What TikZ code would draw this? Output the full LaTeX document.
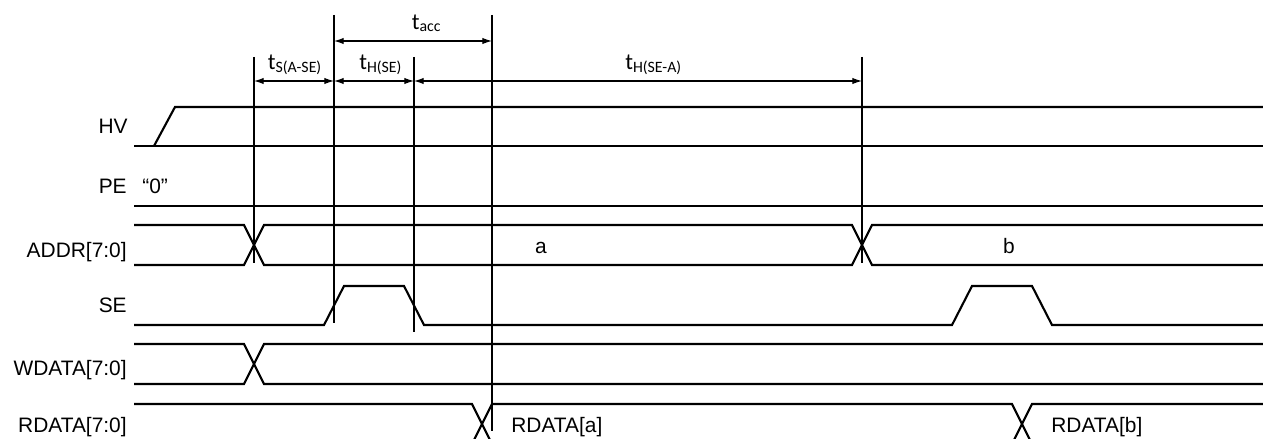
\documentclass[tikz,border=0pt]{standalone}
\usepackage{fontspec}
\setmainfont{Liberation Sans}
\newfontfamily\calfont{Carlito}
\usepackage{tikz}
\usetikzlibrary{arrows.meta, positioning}

% timing label: t with a lowered small subscript
\newcommand{\tlbl}[1]{{\calfont\fontsize{13.1}{15}\selectfont t\raisebox{-1.2pt}{\fontsize{9}{10}\selectfont #1}}}

\begin{document}
\begin{tikzpicture}[x=0.02cm, y=-0.02cm,
    sig/.style={line width=1.2pt, line join=miter},
    marker/.style={line width=0.7pt},
    dim/.style={line width=0.6pt, {Latex[length=5.5pt,width=3.6pt]}-{Latex[length=5.5pt,width=3.6pt]}},
    signame/.style={inner sep=0pt, font=\fontsize{11.9}{14}\selectfont},
    tlabel/.style={inner sep=0pt, anchor=base west}]
        \useasboundingbox (0,0) rectangle (1263,439);
        \clip (0,0) rectangle (1263,439);

        % signal names
        \node[signame, anchor=base east] (hv) at (128,133) {HV};
        \node[signame, anchor=base east] (pe) at (127,193) {PE};
        \node[signame, anchor=base west] (pe0) at (142,193) {“0”};
        \node[signame, anchor=base east] (addr) at (127,257) {ADDR[7:0]};
        \node[signame, anchor=base east] (se) at (127,312) {SE};
        \node[signame, anchor=base east] (wdata) at (127,375) {WDATA[7:0]};
        \node[signame, anchor=base east] (rdata) at (127,432) {RDATA[7:0]};

        % waveforms
        \draw[sig] (134,146) -- (1263,146);
        \draw[sig] (154,146) -- (175,107) -- (1263,107);
        \draw[sig] (134,206) -- (1263,206);
        \draw[sig] (134,225) -- (244,225) -- (264,265) -- (852,265) -- (872,225) -- (1263,225);
        \draw[sig] (134,265) -- (244,265) -- (264,225) -- (852,225) -- (872,265) -- (1263,265);
        \draw[sig] (134,325) -- (324,325) -- (344,286) -- (404,286) -- (424,325)
              -- (952,325) -- (972,286) -- (1032,286) -- (1052,325) -- (1263,325);
        \draw[sig] (134,344) -- (244,344) -- (264,384) -- (1263,384);
        \draw[sig] (134,384) -- (244,384) -- (264,344) -- (1263,344);
        \draw[sig] (134,404) -- (472,404) -- (492,444) -- (1012,444) -- (1032,404) -- (1263,404);
        \draw[sig] (134,444) -- (472,444) -- (492,404) -- (1012,404) -- (1032,444) -- (1263,444);

        \node[signame, anchor=base] (va) at (541,253) {a};
        \node[signame, anchor=base] (vb) at (1009,253) {b};
        \node[signame, anchor=base west] (ra) at (511,432) {RDATA[a]};
        \node[signame, anchor=base west] (rb) at (1051,432) {RDATA[b]};

        % reference lines
        \draw[marker] (254,57) -- (254,263);
        \draw[marker] (334,15) -- (334,323);
        \draw[marker] (414,57) -- (414,332);
        \draw[marker] (492,15) -- (492,431);
        \draw[marker] (862,57) -- (862,263);

        % arrow ends
        \coordinate (c1) at (334,41);
        \coordinate (c2) at (492,41);
        \coordinate (s1) at (254,81);
        \coordinate (s2) at (334,81);
        \coordinate (s3) at (414,81);
        \coordinate (s4) at (862,81);

        \draw[dim] (c1) -- (c2);
        \draw[dim] (s1) -- (s2);
        \draw[dim] (s2) -- (s3);
        \draw[dim] (s3) -- (s4);

        \node[tlabel] (tacc) at (411.5,29.5) {\tlbl{acc}};
        \node[tlabel] (tsase) at (267.5,70) {\tlbl{S(A-SE)}};
        \node[tlabel] (thse) at (359,70) {\tlbl{H(SE)}};
        \node[tlabel] (thsea) at (625,70) {\tlbl{H(SE-A)}};
\end{tikzpicture}
\end{document}
